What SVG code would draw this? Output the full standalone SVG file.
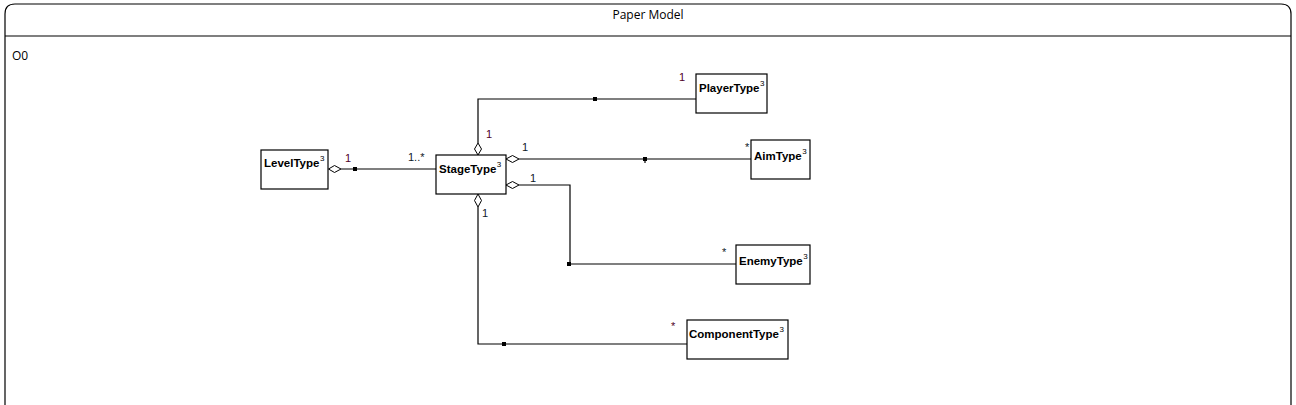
<svg xmlns="http://www.w3.org/2000/svg" width="1296" height="405" viewBox="0 0 1296 405">
<style>
.frame{fill:#fff;stroke:#000;stroke-width:1.2}
.box{fill:#fff;stroke:#000;stroke-width:1.2}
.name{font-family:"Liberation Sans",Arial,sans-serif;font-weight:bold;font-size:11.5px;fill:#000}
.sup{font-size:8px;font-weight:normal}
.conn{fill:none;stroke:#000;stroke-width:1.2}
.dia{fill:#fff;stroke:#000;stroke-width:1}
.sq{fill:#000}
.m1{font-family:"Liberation Sans",Arial,sans-serif;font-size:11px;fill:#500028}
.m2{font-family:"Liberation Sans",Arial,sans-serif;font-size:11px;fill:#101828}
.title{font-family:"Open Sans","Liberation Sans",sans-serif;font-size:12px;fill:#000}
</style>
<rect width="1296" height="405" fill="#fff"/>
<g id="frame">
<path class="frame" d="M5,420 V14 Q5,4 15,4 H1281 Q1291,4 1291,14 V420"/>
<line class="frame" x1="5" y1="36" x2="1291" y2="36"/>
<text class="title" x="648" y="19" text-anchor="middle">Paper Model</text>
<text class="title" x="12" y="60">O0</text>
</g>
<g id="connectors">
<!-- Level - Stage -->
<line class="conn" x1="341" y1="169" x2="436" y2="169"/>
<path class="dia" d="M328.5,169 L334.5,165.5 L341,169 L334.5,172.5 Z"/>
<rect class="sq" x="353" y="167" width="4" height="4"/>
<text class="m1" x="345" y="162">1</text>
<text class="m2" x="408" y="161">1..*</text>
<!-- Stage - Player -->
<polyline class="conn" points="478,143 478,99 696,99"/>
<path class="dia" d="M478,155 L474.5,149 L478,143 L481.5,149 Z"/>
<rect class="sq" x="593" y="97" width="4" height="4"/>
<text class="m1" x="486" y="138">1</text>
<text class="m1" x="679" y="81">1</text>
<!-- Stage - Aim -->
<line class="conn" x1="519" y1="159" x2="751" y2="159"/>
<path class="dia" d="M506,159 L512.5,155.5 L519,159 L512.5,162.5 Z"/>
<rect class="sq" x="643" y="157" width="4" height="4"/>
<line class="conn" x1="645" y1="161" x2="645" y2="163" stroke-width="1"/>
<text class="m2" x="522" y="151">1</text>
<text class="m2" x="745" y="151">*</text>
<!-- Stage - Enemy -->
<polyline class="conn" points="519,185 570,185 570,264 736,264"/>
<path class="dia" d="M506,185 L512.5,181.5 L519,185 L512.5,188.5 Z"/>
<rect class="sq" x="567" y="262" width="4" height="4"/>
<text class="m2" x="530" y="182">1</text>
<text class="m2" x="722" y="256">*</text>
<!-- Stage - Component -->
<polyline class="conn" points="478,207 478,344 687,344"/>
<path class="dia" d="M478,194 L474.5,200.5 L478,207 L481.5,200.5 Z"/>
<rect class="sq" x="502" y="342" width="4" height="4"/>
<text class="m2" x="482" y="217">1</text>
<text class="m1" x="671" y="330">*</text>
</g>
<g id="LevelType">
<rect class="box" x="261" y="150" width="67" height="39"/>
<text class="name" x="264" y="167">LevelType<tspan class="sup" dx="0.5" dy="-6">3</tspan></text>
</g>
<g id="StageType">
<rect class="box" x="436" y="155" width="70" height="39"/>
<text class="name" x="439" y="173">StageType<tspan class="sup" dx="0.5" dy="-6">3</tspan></text>
</g>
<g id="PlayerType">
<rect class="box" x="696" y="74" width="71" height="39"/>
<text class="name" x="699" y="92">PlayerType<tspan class="sup" dx="0.5" dy="-6">3</tspan></text>
</g>
<g id="AimType">
<rect class="box" x="751" y="140" width="59" height="39"/>
<text class="name" x="754" y="160">AimType<tspan class="sup" dx="0.5" dy="-6">3</tspan></text>
</g>
<g id="EnemyType">
<rect class="box" x="736" y="245" width="74" height="39"/>
<text class="name" x="739" y="265">EnemyType<tspan class="sup" dx="0.5" dy="-6">3</tspan></text>
</g>
<g id="ComponentType">
<rect class="box" x="687" y="320" width="101" height="39"/>
<text class="name" x="689" y="338">ComponentType<tspan class="sup" dx="0.5" dy="-6">3</tspan></text>
</g>
</svg>
